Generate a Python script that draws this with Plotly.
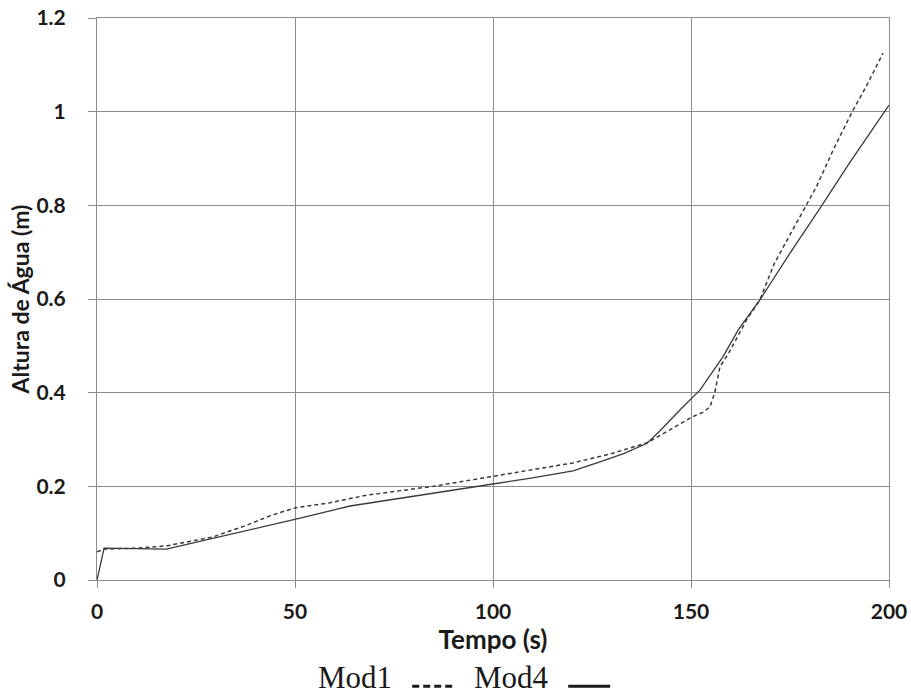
import plotly.graph_objects as go

# Mod1 (dashed)
mod1_t = [0, 2, 10, 17.7, 29.3, 37.8, 44, 50, 58.8, 68, 84.9, 100, 110, 120.2, 130,
          138.9, 143.9, 148, 150.5, 153, 154.8, 156, 157.3, 159.5, 164, 167.4, 171,
          175.5, 178.8, 181.7, 186, 190.7, 194, 198.5]
mod1_v = [0.06, 0.066, 0.068, 0.073, 0.092, 0.117, 0.138, 0.154, 0.165, 0.181, 0.2,
          0.222, 0.235, 0.25, 0.27, 0.293, 0.317, 0.338, 0.349, 0.358, 0.37, 0.4,
          0.455, 0.484, 0.555, 0.598, 0.675, 0.745, 0.797, 0.84, 0.92, 1.0, 1.05, 1.125]

# Mod4 (solid)
mod4_t = [0, 1.8, 17.5, 30, 40, 51.3, 63.9, 75, 84.9, 100, 110, 120.2, 127, 133,
          138.9, 142, 147.2, 152.3, 158.1, 162, 167.4, 175, 182.6, 190, 200]
mod4_v = [0, 0.068, 0.066, 0.09, 0.11, 0.132, 0.158, 0.172, 0.185, 0.205, 0.218,
          0.233, 0.252, 0.27, 0.292, 0.317, 0.363, 0.406, 0.477, 0.535, 0.598,
          0.698, 0.794, 0.89, 1.014]

x_ticks = [0, 50, 100, 150, 200]
y_ticks = [0, 0.2, 0.4, 0.6, 0.8, 1.0, 1.2]

line_col = "#3a3a3a"
grid_col = "#8c8c8c"
text_col = "#1a1a1a"

fig = go.Figure()
fig.add_trace(go.Scatter(x=mod1_t, y=mod1_v, mode="lines", name="Mod1",
                         line=dict(color=line_col, width=1.5, dash="4px,3px"),
                         showlegend=False))
fig.add_trace(go.Scatter(x=mod4_t, y=mod4_v, mode="lines", name="Mod4",
                         line=dict(color=line_col, width=1.3),
                         showlegend=False))

tick_font = dict(family="Lato", size=21, color=text_col, weight="bold")

fig.update_layout(
    width=911, height=698,
    margin=dict(l=97, r=22, t=18, b=118),
    paper_bgcolor="white", plot_bgcolor="white",
    xaxis=dict(range=[0, 200], tickvals=x_ticks, ticks="outside", ticklen=7,
               tickcolor=grid_col, showgrid=True, gridcolor=grid_col, gridwidth=1,
               showline=True, linecolor=grid_col, linewidth=1, mirror=True,
               zeroline=False, tickfont=tick_font, automargin=False,
               ticklabelstandoff=6, ticklabeloverflow="allow",
               title=dict(text="Tempo (s)", font=dict(family="Lato", size=26, color=text_col, weight="bold"), standoff=4)),
    yaxis=dict(range=[0, 1.2], tickvals=y_ticks, ticks="outside", ticklen=8,
               tickcolor=grid_col, showgrid=True, gridcolor=grid_col, gridwidth=1,
               showline=True, linecolor=grid_col, linewidth=1, mirror=True,
               zeroline=False, tickfont=tick_font, ticklabelstandoff=18, automargin=False,
               ticklabeloverflow="allow",
               title=dict(text="Altura de Água (m)", font=dict(family="Lato", size=23, color=text_col, weight="bold"), standoff=0)),
)

# custom legend (text before symbol)
leg_font = dict(family="Liberation Serif", size=31, color=text_col)
fig.add_annotation(text="Mod1", xref="paper", yref="paper", x=0.326, y=-0.209,
                   showarrow=False, font=leg_font, xanchor="center", yanchor="bottom")
fig.add_annotation(text="Mod4", xref="paper", yref="paper", x=0.523, y=-0.209,
                   showarrow=False, font=leg_font, xanchor="center", yanchor="bottom")
fig.add_shape(type="line", xref="paper", yref="paper", x0=0.398, x1=0.449, y0=-0.189, y1=-0.189,
              line=dict(color=text_col, width=3, dash="7px,4px"))
fig.add_shape(type="line", xref="paper", yref="paper", x0=0.595, x1=0.648, y0=-0.189, y1=-0.189,
              line=dict(color=text_col, width=3))

fig.write_html("out.html", config={"displayModeBar": False},
               post_script="document.body.style.margin='0';document.body.style.overflow='hidden';")
